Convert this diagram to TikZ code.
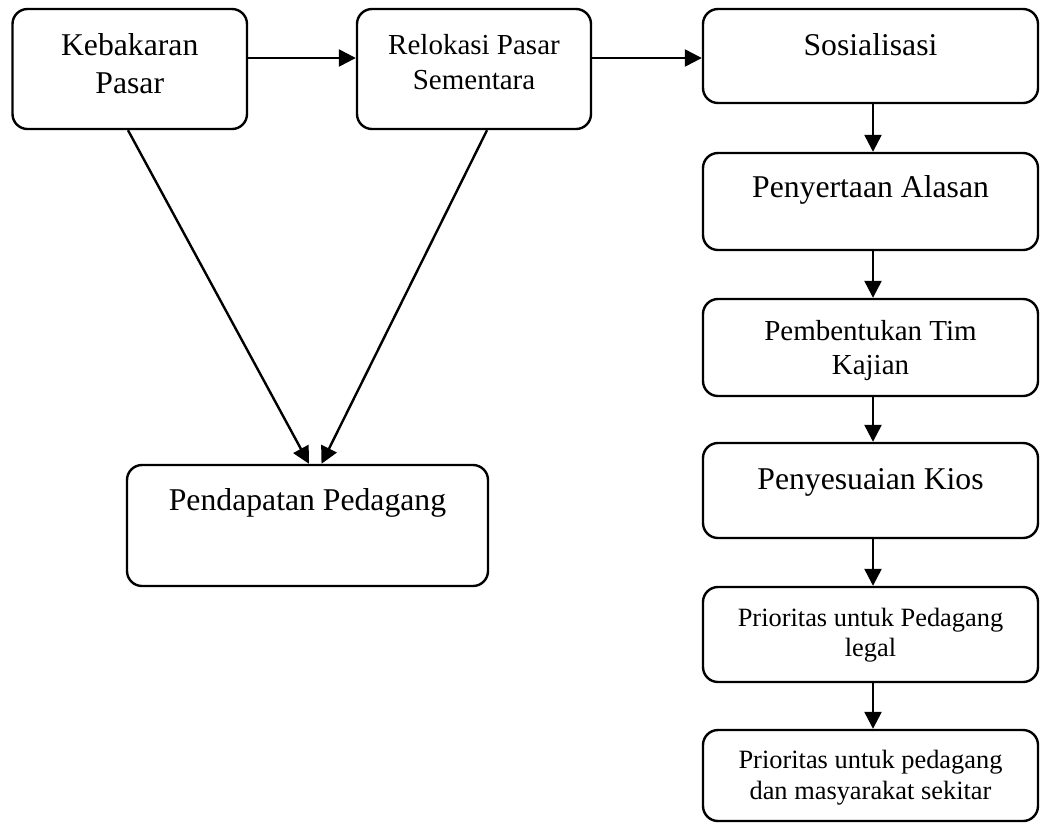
\documentclass[tikz,border=0pt]{standalone}
\usepackage{fontspec}
\setmainfont{Liberation Serif}
\usetikzlibrary{arrows.meta}
\tikzset{
  box/.style={draw=black, line width=2.4pt, rounded corners=15pt, fill=white, inner sep=0pt},
  txt/.style={inner sep=0pt, align=center},
  big/.style={font=\fontsize{31.7}{38}\selectfont},
  mid/.style={font=\fontsize{29}{34.5}\selectfont},
  sml/.style={font=\fontsize{26.4}{30.5}\selectfont},
  arr/.style={line width=2.4pt, -{Triangle[length=17pt,width=17pt]}},
}
\begin{document}
\begin{tikzpicture}[x=1pt,y=-1pt]
\useasboundingbox (0,0) rectangle (1040,823);
% boxes
\node[box, minimum width=234.5pt, minimum height=120pt] (k) at (129.75,69) {};
\node[box, minimum width=234pt, minimum height=120pt] (r) at (474,69) {};
\node[box, minimum width=335pt, minimum height=94pt] (s) at (870.5,56) {};
\node[box, minimum width=335pt, minimum height=97pt] (pa) at (870.5,201.5) {};
\node[box, minimum width=335pt, minimum height=97pt] (pt) at (870.5,347.5) {};
\node[box, minimum width=335pt, minimum height=95pt] (pk) at (870.5,490.5) {};
\node[box, minimum width=335pt, minimum height=95pt] (pl) at (870.5,634.5) {};
\node[box, minimum width=335pt, minimum height=91pt] (pm) at (870.5,775.5) {};
\node[box, minimum width=361pt, minimum height=121pt] (pp) at (307.5,525.5) {};
% texts
\node[txt, big] (tk) at (129.75,64) {Kebakaran\\Pasar};
\node[txt, mid] (tr) at (474,62) {Relokasi Pasar\\Sementara};
\node[txt, big] (ts) at (870.5,45) {Sosialisasi};
\node[txt, big] (tpa) at (870.5,190) {Penyertaan Alasan};
\node[txt, mid] (tpt) at (870.5,350.5) {Pembentukan Tim\\Kajian};
\node[txt, big] (tpk) at (870.5,482) {Penyesuaian Kios};
\node[txt, sml] (tpl) at (870.5,635) {Prioritas untuk Pedagang\\legal};
\node[txt, sml] (tpm) at (870.5,777.5) {Prioritas untuk pedagang\\dan masyarakat sekitar};
\node[txt, big] (tpp) at (307.5,503) {Pendapatan Pedagang};
% connectors
\draw[arr] ([yshift=11pt]k.east) -- ([yshift=11pt]r.west);
\draw[arr] ([yshift=11pt]r.east) -- ([yshift=-2pt]s.west);
\draw[arr] ([xshift=2.5pt]s.south) -- ([xshift=2.5pt]pa.north);
\draw[arr] ([xshift=2.5pt]pa.south) -- ([xshift=2.5pt]pt.north);
\draw[arr] ([xshift=2.5pt]pt.south) -- ([xshift=2.5pt]pk.north);
\draw[arr] ([xshift=2.5pt]pk.south) -- ([xshift=2.5pt]pl.north);
\draw[arr] ([xshift=2.5pt]pl.south) -- ([xshift=2.5pt]pm.north);
\draw[arr] ([xshift=-1.75pt]k.south) -- ([xshift=1.5pt]pp.north);
\draw[arr] ([xshift=13pt]r.south) -- ([xshift=14pt]pp.north);
\end{tikzpicture}
\end{document}
